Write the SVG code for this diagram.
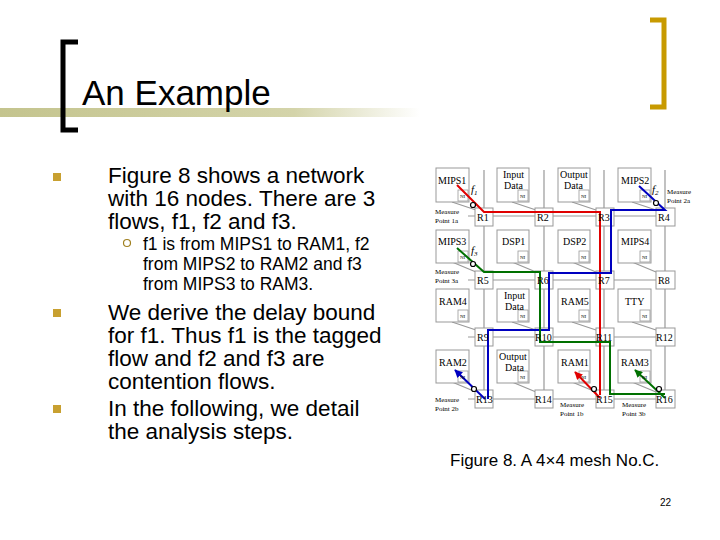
<svg xmlns="http://www.w3.org/2000/svg" width="720" height="540" viewBox="0 0 720 540">
<defs>
<linearGradient id="lg" x1="0" x2="1"><stop offset="0" stop-color="#c4c48e"/><stop offset="0.7" stop-color="#d4d4aa"/><stop offset="1" stop-color="#ffffff"/></linearGradient>
<marker id="aR" viewBox="0 0 10 10" refX="9" refY="5" markerWidth="4" markerHeight="4" orient="auto"><path d="M0,0L10,5L0,10z" fill="#e00000"/></marker>
<marker id="aB" viewBox="0 0 10 10" refX="9" refY="5" markerWidth="4" markerHeight="4" orient="auto"><path d="M0,0L10,5L0,10z" fill="#0000c0"/></marker>
<marker id="aG" viewBox="0 0 10 10" refX="9" refY="5" markerWidth="4" markerHeight="4" orient="auto"><path d="M0,0L10,5L0,10z" fill="#007000"/></marker>
</defs>
<style>
.t{font-family:"Liberation Sans",Arial,sans-serif;fill:#000}
.s{font-family:"Liberation Serif","Times New Roman",serif;fill:#000}
.core{fill:#fff;stroke:#999;stroke-width:1}
.ni{fill:#fff;stroke:#999;stroke-width:0.8}
.rt{fill:#fff;stroke:#999;stroke-width:1}
.grid{stroke:#999;stroke-width:1.2;fill:none}
</style>
<rect width="720" height="540" fill="#fff"/>
<rect x="0" y="108" width="420" height="9" fill="url(#lg)"/>
<path d="M78,42H63V130H78" fill="none" stroke="#000" stroke-width="5"/>
<path d="M650,20H664V107H650" fill="none" stroke="#c89a00" stroke-width="5"/>
<text class="t" x="82" y="105" font-size="35">An Example</text>
<g class="t" font-size="22.5">
<rect x="53" y="173" width="8" height="8" fill="#c8a030"/>
<text x="108" y="183">Figure 8 shows a network</text>
<text x="108" y="206">with 16 nodes. There are 3</text>
<text x="108" y="229">flows, f1, f2 and f3.</text>
<circle cx="127" cy="243" r="3.5" fill="none" stroke="#a08020" stroke-width="1.2"/>
<text x="143" y="250" font-size="17.5">f1 is from MIPS1 to RAM1, f2</text>
<text x="143" y="270" font-size="17.5">from MIPS2 to RAM2 and f3</text>
<text x="143" y="290" font-size="17.5">from MIPS3 to RAM3.</text>
<rect x="53" y="309" width="8" height="8" fill="#c8a030"/>
<text x="108" y="320">We derive the delay bound</text>
<text x="108" y="343">for f1. Thus f1 is the tagged</text>
<text x="108" y="366">flow and f2 and f3 are</text>
<text x="108" y="389">contention flows.</text>
<rect x="53" y="405" width="8" height="8" fill="#c8a030"/>
<text x="108" y="416">In the following, we detail</text>
<text x="108" y="439">the analysis steps.</text>
<text x="450" y="466" font-size="17">Figure 8. A 4×4 mesh No.C.</text>
<text x="660" y="506" font-size="10">22</text>
</g>
<g id="connectors">
<path class="grid" d="M468,216H675M468,280H675M468,337H675M468,399H675M484,170V408M544,170V408M604,170V408M665,170V408"/>
<path class="grid" d="M452,202L476,210M512,202L536,210M572,202L596,210M632,202L656,210M452,262L476,272M512,262L536,272M572,262L596,272M632,262L656,272M452,322L476,330M512,322L536,330M572,322L596,330M632,322L656,330M452,382L476,392M512,382L536,392M572,382L596,392M632,382L656,392"/>
</g>
<g id="cores">
<g id="MIPS1"><rect class="core" x="436" y="168" width="33" height="34"/><rect class="ni" x="458" y="190" width="10" height="11"/></g>
<g id="InputData1"><rect class="core" x="497" y="168" width="32" height="34"/><rect class="ni" x="518" y="190" width="10" height="11"/></g>
<g id="OutputData1"><rect class="core" x="558" y="168" width="32" height="34"/><rect class="ni" x="579" y="190" width="10" height="11"/></g>
<g id="MIPS2"><rect class="core" x="618" y="168" width="33" height="34"/><rect class="ni" x="640" y="190" width="10" height="11"/></g>
<g id="MIPS3"><rect class="core" x="436" y="230" width="33" height="33"/><rect class="ni" x="458" y="251" width="10" height="11"/></g>
<g id="DSP1"><rect class="core" x="497" y="230" width="32" height="33"/><rect class="ni" x="518" y="251" width="10" height="11"/></g>
<g id="DSP2"><rect class="core" x="558" y="230" width="32" height="33"/><rect class="ni" x="579" y="251" width="10" height="11"/></g>
<g id="MIPS4"><rect class="core" x="618" y="230" width="33" height="33"/><rect class="ni" x="640" y="251" width="10" height="11"/></g>
<g id="RAM4"><rect class="core" x="436" y="289" width="33" height="33"/><rect class="ni" x="458" y="310" width="10" height="11"/></g>
<g id="InputData2"><rect class="core" x="497" y="289" width="32" height="33"/><rect class="ni" x="518" y="310" width="10" height="11"/></g>
<g id="RAM5"><rect class="core" x="558" y="289" width="32" height="33"/><rect class="ni" x="579" y="310" width="10" height="11"/></g>
<g id="TTY"><rect class="core" x="618" y="289" width="33" height="33"/><rect class="ni" x="640" y="310" width="10" height="11"/></g>
<g id="RAM2"><rect class="core" x="436" y="350" width="33" height="33"/><rect class="ni" x="458" y="371" width="10" height="11"/></g>
<g id="OutputData2"><rect class="core" x="497" y="350" width="32" height="33"/><rect class="ni" x="518" y="371" width="10" height="11"/></g>
<g id="RAM1"><rect class="core" x="558" y="350" width="32" height="33"/><rect class="ni" x="579" y="371" width="10" height="11"/></g>
<g id="RAM3"><rect class="core" x="618" y="350" width="33" height="33"/><rect class="ni" x="640" y="371" width="10" height="11"/></g>
</g>
<g id="routers">
<rect class="rt" x="475" y="208" width="18" height="18"/><rect class="rt" x="535" y="208" width="18" height="18"/><rect class="rt" x="596" y="208" width="18" height="18"/><rect class="rt" x="656" y="208" width="19" height="18"/>
<rect class="rt" x="475" y="271" width="18" height="18"/><rect class="rt" x="535" y="271" width="18" height="18"/><rect class="rt" x="596" y="271" width="18" height="18"/><rect class="rt" x="656" y="271" width="19" height="18"/>
<rect class="rt" x="475" y="328" width="18" height="18"/><rect class="rt" x="535" y="328" width="18" height="18"/><rect class="rt" x="596" y="328" width="18" height="18"/><rect class="rt" x="656" y="328" width="19" height="18"/>
<rect class="rt" x="475" y="390" width="18" height="18"/><rect class="rt" x="535" y="390" width="18" height="18"/><rect class="rt" x="596" y="390" width="18" height="18"/><rect class="rt" x="656" y="390" width="19" height="18"/>
</g>
<g id="flows" fill="none" stroke-width="2">
<path d="M457,185L484,212H600V395" stroke="#e00000"/>
<path d="M600,398L575,372" stroke="#e00000" marker-end="url(#aR)"/>
<path d="M639,186L665,210H611V273H549V330H488V399" stroke="#0000c0"/>
<path d="M485,399L455,370" stroke="#0000c0" marker-end="url(#aB)"/>
<path d="M457,248L484,272H540V342H610V394H665" stroke="#007000"/>
<path d="M665,398L635,370" stroke="#007000" marker-end="url(#aG)"/>
</g>
<g fill="#fff" stroke="#000" stroke-width="1.2">
<circle cx="473" cy="205" r="2.5"/><circle cx="656" cy="203" r="2.5"/><circle cx="473" cy="264" r="2.5"/>
<circle cx="474" cy="389" r="2.5"/><circle cx="594" cy="389" r="2.5"/><circle cx="659" cy="389" r="2.5"/>
</g>
<g class="s" font-size="10">
<text x="438" y="184">MIPS1</text><text x="503" y="178">Input</text><text x="504" y="189">Data</text>
<text x="560" y="178">Output</text><text x="564" y="189">Data</text><text x="621" y="184">MIPS2</text>
<text x="438" y="245">MIPS3</text><text x="502" y="245">DSP1</text><text x="563" y="245">DSP2</text><text x="621" y="245">MIPS4</text>
<text x="439" y="305">RAM4</text><text x="504" y="299">Input</text><text x="505" y="310">Data</text><text x="561" y="305">RAM5</text><text x="625" y="305">TTY</text>
<text x="439" y="366">RAM2</text><text x="499" y="360">Output</text><text x="505" y="371">Data</text><text x="561" y="366">RAM1</text><text x="621" y="366">RAM3</text>
<text x="477" y="221">R1</text><text x="537" y="221">R2</text><text x="598" y="221">R3</text><text x="658" y="221">R4</text>
<text x="477" y="284">R5</text><text x="537" y="284">R6</text><text x="598" y="284">R7</text><text x="658" y="284">R8</text>
<text x="477" y="341">R9</text><text x="535" y="341">R10</text><text x="596" y="341">R11</text><text x="656" y="341">R12</text>
<text x="476" y="403">R13</text><text x="535" y="403">R14</text><text x="596" y="403">R15</text><text x="656" y="403">R16</text>
<g font-size="5"><text x="460" y="198">NI</text><text x="520" y="198">NI</text><text x="581" y="198">NI</text><text x="642" y="198">NI</text>
<text x="460" y="259">NI</text><text x="520" y="259">NI</text><text x="581" y="259">NI</text><text x="642" y="259">NI</text>
<text x="460" y="318">NI</text><text x="520" y="318">NI</text><text x="581" y="318">NI</text><text x="642" y="318">NI</text>
<text x="460" y="379">NI</text><text x="520" y="379">NI</text><text x="581" y="379">NI</text><text x="642" y="379">NI</text></g>
<g font-size="7"><text x="435" y="214">Measure</text><text x="435" y="223">Point 1a</text>
<text x="435" y="274">Measure</text><text x="435" y="283">Point 3a</text>
<text x="435" y="402">Measure</text><text x="435" y="411">Point 2b</text>
<text x="560" y="407">Measure</text><text x="560" y="416">Point 1b</text>
<text x="622" y="407">Measure</text><text x="622" y="416">Point 3b</text>
<text x="667" y="194">Measure</text><text x="667" y="203">Point 2a</text></g>
<g font-style="italic" font-size="11"><text x="471" y="193">f<tspan font-size="7" dy="2">1</tspan></text><text x="652" y="193">f<tspan font-size="7" dy="2">2</tspan></text><text x="471" y="254">f<tspan font-size="7" dy="2">3</tspan></text></g>
</g>
</svg>
